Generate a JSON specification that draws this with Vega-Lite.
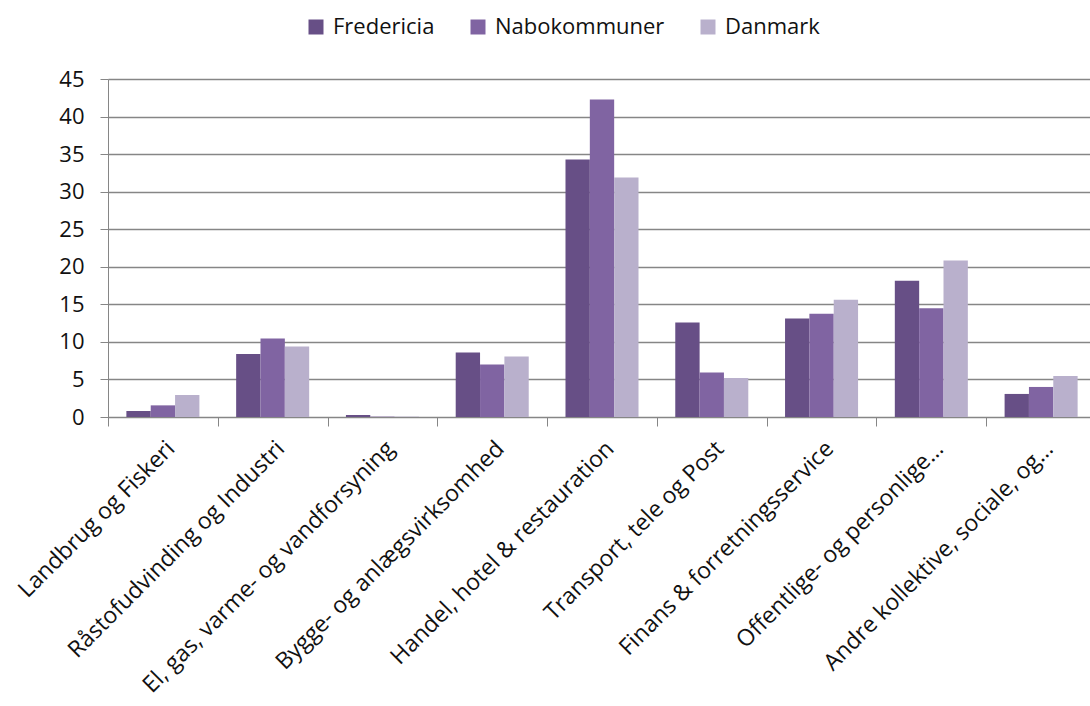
{
  "$schema": "https://vega.github.io/schema/vega-lite/v6.json",
  "width": 982,
  "height": 338,
  "autosize": "none",
  "padding": {"left": 108, "top": 79, "right": 0, "bottom": 289},
  "background": "white",
  "config": {
    "font": "Open Sans",
    "view": {"stroke": null},
    "axis": {"labelFont": "Open Sans", "labelColor": "#111111", "labelFontSize": 22}
  },
  "data": {
    "values": [
      {"branche": "Landbrug og Fiskeri", "serie": "Fredericia", "v": 0.8},
      {"branche": "Landbrug og Fiskeri", "serie": "Nabokommuner", "v": 1.55},
      {"branche": "Landbrug og Fiskeri", "serie": "Danmark", "v": 2.93},
      {"branche": "Råstofudvinding og Industri", "serie": "Fredericia", "v": 8.4},
      {"branche": "Råstofudvinding og Industri", "serie": "Nabokommuner", "v": 10.45},
      {"branche": "Råstofudvinding og Industri", "serie": "Danmark", "v": 9.37},
      {"branche": "El, gas, varme- og vandforsyning", "serie": "Fredericia", "v": 0.27},
      {"branche": "El, gas, varme- og vandforsyning", "serie": "Nabokommuner", "v": 0.05},
      {"branche": "El, gas, varme- og vandforsyning", "serie": "Danmark", "v": 0.05},
      {"branche": "Bygge- og anlægsvirksomhed", "serie": "Fredericia", "v": 8.58},
      {"branche": "Bygge- og anlægsvirksomhed", "serie": "Nabokommuner", "v": 6.98},
      {"branche": "Bygge- og anlægsvirksomhed", "serie": "Danmark", "v": 8.05},
      {"branche": "Handel, hotel & restauration", "serie": "Fredericia", "v": 34.27},
      {"branche": "Handel, hotel & restauration", "serie": "Nabokommuner", "v": 42.27},
      {"branche": "Handel, hotel & restauration", "serie": "Danmark", "v": 31.87},
      {"branche": "Transport, tele og Post", "serie": "Fredericia", "v": 12.59},
      {"branche": "Transport, tele og Post", "serie": "Nabokommuner", "v": 5.92},
      {"branche": "Transport, tele og Post", "serie": "Danmark", "v": 5.2},
      {"branche": "Finans & forretningsservice", "serie": "Fredericia", "v": 13.12},
      {"branche": "Finans & forretningsservice", "serie": "Nabokommuner", "v": 13.73},
      {"branche": "Finans & forretningsservice", "serie": "Danmark", "v": 15.6},
      {"branche": "Offentlige- og personlige…", "serie": "Fredericia", "v": 18.13},
      {"branche": "Offentlige- og personlige…", "serie": "Nabokommuner", "v": 14.49},
      {"branche": "Offentlige- og personlige…", "serie": "Danmark", "v": 20.85},
      {"branche": "Andre kollektive, sociale, og…", "serie": "Fredericia", "v": 3.07},
      {"branche": "Andre kollektive, sociale, og…", "serie": "Nabokommuner", "v": 4.0},
      {"branche": "Andre kollektive, sociale, og…", "serie": "Danmark", "v": 5.47}
    ]
  },
  "mark": {"type": "bar"},
  "encoding": {
    "x": {
      "field": "branche",
      "type": "nominal",
      "sort": null,
      "title": null,
      "scale": {"paddingInner": 0, "paddingOuter": 0, "range": [0, 988]},
      "axis": {
        "labelAngle": -45,
        "labelFontSize": 23,
        "tickBand": "extent",
        "domainColor": "#868686",
        "tickColor": "#868686",
        "tickSize": 9,
        "labelPadding": 11,
        "labelLimit": 400,
        "grid": false
      }
    },
    "xOffset": {
      "field": "serie",
      "type": "nominal",
      "sort": ["Fredericia", "Nabokommuner", "Danmark"],
      "scale": {"paddingInner": 0, "paddingOuter": 0.755}
    },
    "y": {
      "field": "v",
      "type": "quantitative",
      "title": null,
      "scale": {"domain": [0, 45], "nice": false},
      "axis": {
        "values": [0, 5, 10, 15, 20, 25, 30, 35, 40, 45],
        "grid": true,
        "gridColor": "#868686",
        "gridWidth": 1.5,
        "domainColor": "#868686",
        "tickColor": "#868686",
        "tickSize": 8,
        "labelPadding": 16
      }
    },
    "color": {
      "field": "serie",
      "type": "nominal",
      "sort": ["Fredericia", "Nabokommuner", "Danmark"],
      "scale": {
        "domain": ["Fredericia", "Nabokommuner", "Danmark"],
        "range": ["#674f86", "#8064a2", "#b9b0cc"]
      },
      "legend": {
        "title": null,
        "orient": "none",
        "legendX": 197,
        "legendY": -63,
        "direction": "horizontal",
        "symbolType": "square",
        "symbolSize": 225,
        "symbolStrokeWidth": 0,
        "labelFont": "Open Sans",
        "labelFontSize": 22,
        "labelColor": "#111111",
        "labelLimit": 400,
        "columnPadding": 32,
        "labelOffset": 6
      }
    }
  }
}
